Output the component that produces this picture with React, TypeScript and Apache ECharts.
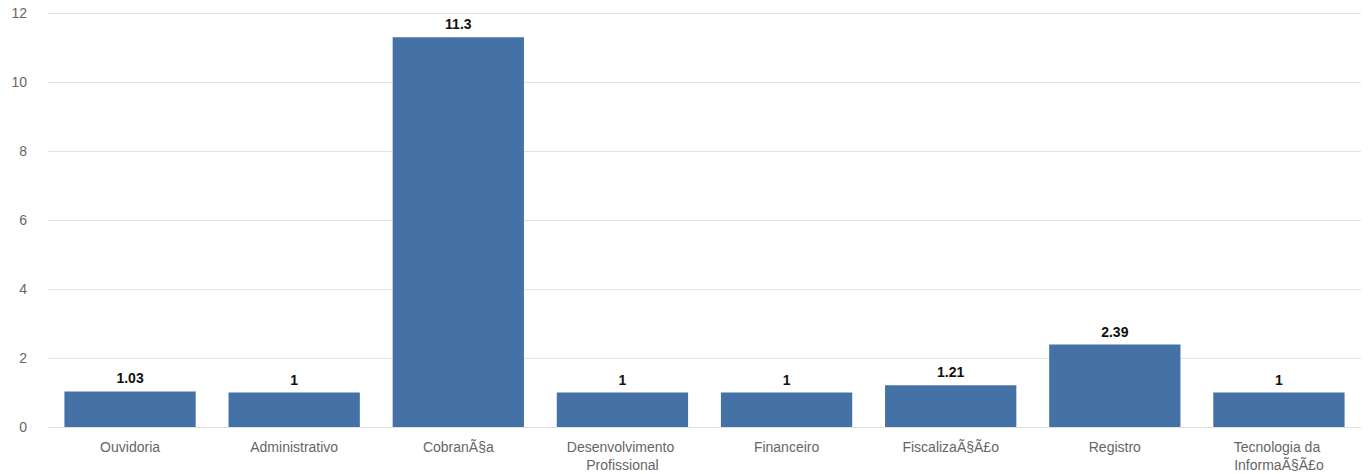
import React, { useEffect, useRef } from "react";
import * as echarts from "echarts";

const categories = [
  "Ouvidoria",
  "Administrativo",
  "CobranÃ§a",
  "Desenvolvimento Profissional",
  "Financeiro",
  "FiscalizaÃ§Ã£o",
  "Registro",
  "Tecnologia da InformaÃ§Ã£o",
];
const values = [1.03, 1, 11.3, 1, 1, 1.21, 2.39, 1];
const yTicks = { min: 0, max: 12, interval: 2 };

export default function App() {
  const ref = useRef<HTMLDivElement>(null);
  useEffect(() => {
    document.body.style.margin = "0";
    const chart = echarts.init(ref.current!, null, { renderer: "svg" });
    chart.setOption({
      animation: false,
      textStyle: { fontFamily: "Liberation Sans, Arial, sans-serif" },
      grid: { left: 48, right: 10, top: 13, bottom: 45, containLabel: false },
      xAxis: {
        type: "category",
        data: categories,
        axisLine: { lineStyle: { color: "#e0e0e0" } },
        axisTick: { show: false },
        axisLabel: {
          color: "#666666",
          fontSize: 14,
          margin: 11,
          lineHeight: 18,
          width: 140,
          overflow: "break",
          interval: 0,
        },
      },
      yAxis: {
        type: "value",
        min: yTicks.min,
        max: yTicks.max,
        interval: yTicks.interval,
        axisLine: { show: false },
        axisTick: { show: false },
        splitLine: { lineStyle: { color: "#e3e3e3" } },
        axisLabel: { color: "#666666", fontSize: 14, margin: 21 },
      },
      series: [
        {
          type: "bar",
          data: values,
          barWidth: "80%",
          itemStyle: { color: "#4472A6" },
          label: {
            show: true,
            position: "top",
            distance: 6,
            color: "#111111",
            fontWeight: "bold",
            fontSize: 14,
          },
        },
      ],
    });
    return () => chart.dispose();
  }, []);
  return <div ref={ref} style={{ width: 1371, height: 474 }} />;
}
